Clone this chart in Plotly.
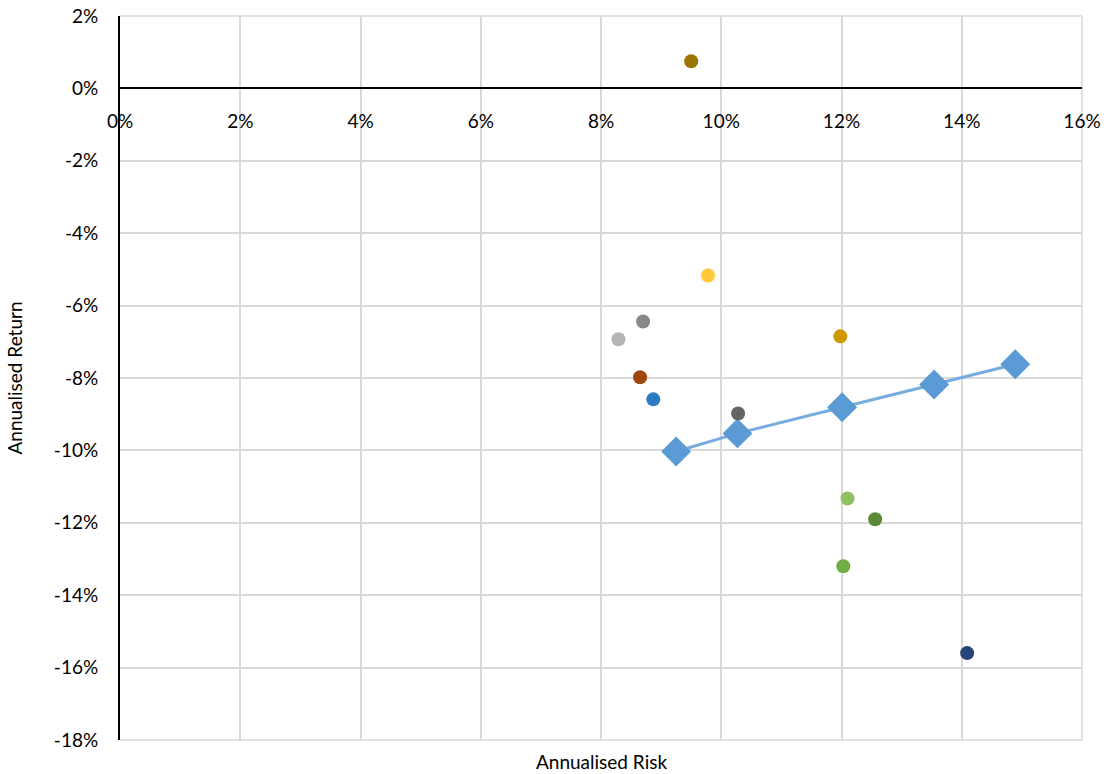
import plotly.graph_objects as go

# Individual assets (risk %, return %)
asset_names = ["A1", "A2", "A3", "A4", "A5", "A6", "A7", "A8", "A9", "A10", "A11", "A12"]
asset_risk = [9.50, 9.78, 8.70, 8.29, 8.65, 8.87, 10.28, 11.98, 12.10, 12.56, 12.03, 14.09]
asset_return = [0.75, -5.17, -6.44, -6.93, -7.98, -8.59, -8.98, -6.85, -11.33, -11.90, -13.20, -15.60]
asset_colors = ["#9C7500", "#FFC93C", "#878787", "#B4B4B4", "#9E480E", "#2E7AC2",
                "#646464", "#CF9A00", "#8DC163", "#5A8A38", "#70AD47", "#264478"]

# Frontier portfolios
frontier_risk = [9.25, 10.27, 12.01, 13.54, 14.89]
frontier_return = [-10.03, -9.53, -8.81, -8.18, -7.62]

x_ticks = [0, 2, 4, 6, 8, 10, 12, 14, 16]
y_ticks = [2, 0, -2, -4, -6, -8, -10, -12, -14, -16, -18]
x_ticktext = [f"{v}%" for v in x_ticks]
y_ticktext = [f"{v}%" for v in y_ticks]

FONT = "Lato"

fig = go.Figure()
fig.add_trace(go.Scatter(
    x=frontier_risk, y=frontier_return, mode="lines+markers",
    line=dict(color="#78ACDF", width=3),
    marker=dict(symbol="diamond", size=23, color="#5B9BD5"),
    name="Frontier", showlegend=False, cliponaxis=False,
))
for n, xr, yr, c in zip(asset_names, asset_risk, asset_return, asset_colors):
    fig.add_trace(go.Scatter(
        x=[xr], y=[yr], mode="markers",
        marker=dict(size=14, color=c),
        name=n, showlegend=False, cliponaxis=False,
    ))

fig.update_layout(
    width=1112, height=774,
    margin=dict(l=120, r=30, t=16, b=34, autoexpand=False),
    paper_bgcolor="white", plot_bgcolor="white",
    font=dict(family=FONT, size=19, color="#000000"),
    xaxis=dict(
        range=[0, 16], tickvals=x_ticks, ticktext=x_ticktext,
        showgrid=True, gridcolor="#D9D9D9", gridwidth=1.5,
        zeroline=False, showline=True, linecolor="#000000", linewidth=2,
        anchor="free", position=0.9, ticks="", ticklabelstandoff=16,
        automargin=False,
    ),
    yaxis=dict(
        range=[-18, 2], tickvals=y_ticks, ticktext=y_ticktext,
        showgrid=True, gridcolor="#D9D9D9", gridwidth=1.5,
        zeroline=False, showline=True, linecolor="#000000", linewidth=2,
        ticks="", ticklabelstandoff=16, automargin=False,
        title=dict(text="Annualised Return", standoff=26, font=dict(size=19)),
    ),
    shapes=[
        dict(type="line", xref="paper", yref="paper", x0=1, x1=1, y0=0, y1=1,
             line=dict(color="#D9D9D9", width=1.5), layer="below"),
        dict(type="line", xref="paper", yref="paper", x0=0, x1=1, y0=0, y1=0,
             line=dict(color="#D9D9D9", width=1.5), layer="below"),
        dict(type="line", xref="paper", yref="paper", x0=0, x1=1, y0=1, y1=1,
             line=dict(color="#D9D9D9", width=1.5), layer="below"),
    ],
    annotations=[
        dict(text="Annualised Risk", xref="paper", yref="paper", x=0.5, y=0,
             yshift=-21, showarrow=False, font=dict(size=19), yanchor="middle"),
    ],
)

fig.write_html(
    "out.html",
    config={"displayModeBar": False},
    post_script="document.body.style.margin='0';document.body.style.overflow='hidden';",
)
